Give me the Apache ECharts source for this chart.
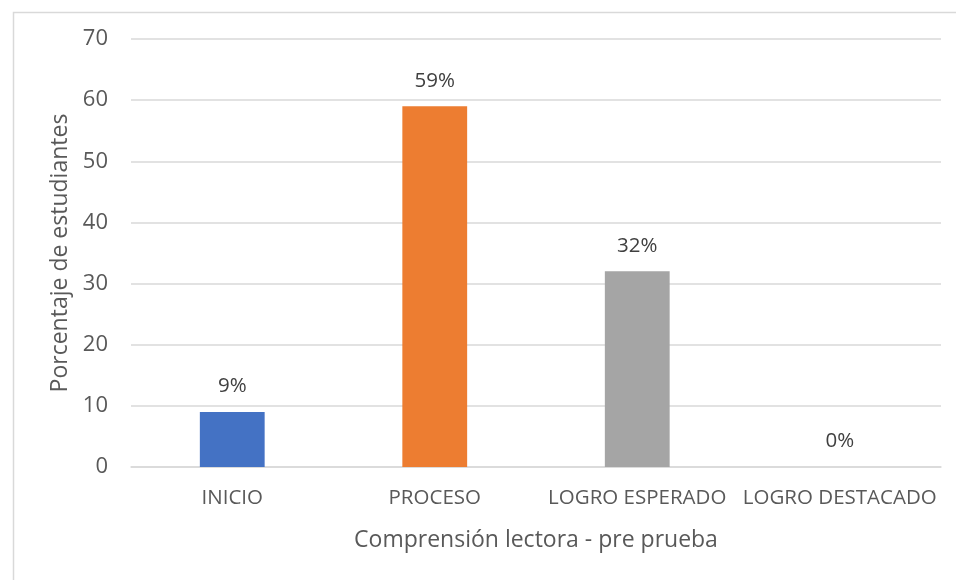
<!DOCTYPE html>
<html><head><meta charset="utf-8">
<script src="https://cdn.jsdelivr.net/npm/echarts@6/dist/echarts.min.js"></script>
<style>html,body{margin:0;padding:0;background:#fff}#c{width:956px;height:580px}</style>
</head><body><div id="c"></div>
<script>
const categories = ['INICIO', 'PROCESO', 'LOGRO ESPERADO', 'LOGRO DESTACADO'];
const values = [9, 59, 32, 0];
const colors = ['#4472C4', '#ED7D31', '#A5A5A5', '#FFC000'];
const yTitle = 'Porcentaje de estudiantes';
const xTitle = 'Comprensión lectora - pre prueba';

const font = '"Open Sans", sans-serif';
const chart = echarts.init(document.getElementById('c'), null, {renderer: 'canvas'});
chart.setOption({
  animation: false,
  graphic: [{type: 'rect', left: 11, top: 10, shape: {width: 960, height: 600},
    style: {fill: 'none', stroke: '#d9d9d9', lineWidth: 1.5}, z: -1}],
  grid: {left: 131, right: 15, top: 39, bottom: 113},
  xAxis: {
    type: 'category', data: categories,
    axisLine: {lineStyle: {color: '#d9d9d9', width: 1.5}},
    axisTick: {show: false},
    axisLabel: {color: '#595959', fontFamily: font, fontSize: 20.5, margin: 21, interval: 0},
    name: xTitle, nameLocation: 'middle', nameGap: 62,
    nameTextStyle: {color: '#595959', fontFamily: font, fontSize: 23}
  },
  yAxis: {
    type: 'value', min: 0, max: 70, interval: 10,
    axisLine: {show: false}, axisTick: {show: false},
    splitLine: {lineStyle: {color: '#d9d9d9', width: 1.5}},
    axisLabel: {color: '#595959', fontFamily: font, fontSize: 22, margin: 23},
    name: yTitle, nameLocation: 'middle', nameGap: 56,
    nameTextStyle: {color: '#595959', fontFamily: font, fontSize: 23}
  },
  series: [{
    type: 'bar', barWidth: '32%',
    data: values.map((v, i) => ({value: v, itemStyle: {color: colors[i]}})),
    label: {show: true, position: 'top', distance: 15, formatter: '{c}%',
      color: '#404040', fontFamily: font, fontSize: 20.5}
  }]
});
</script></body></html>
